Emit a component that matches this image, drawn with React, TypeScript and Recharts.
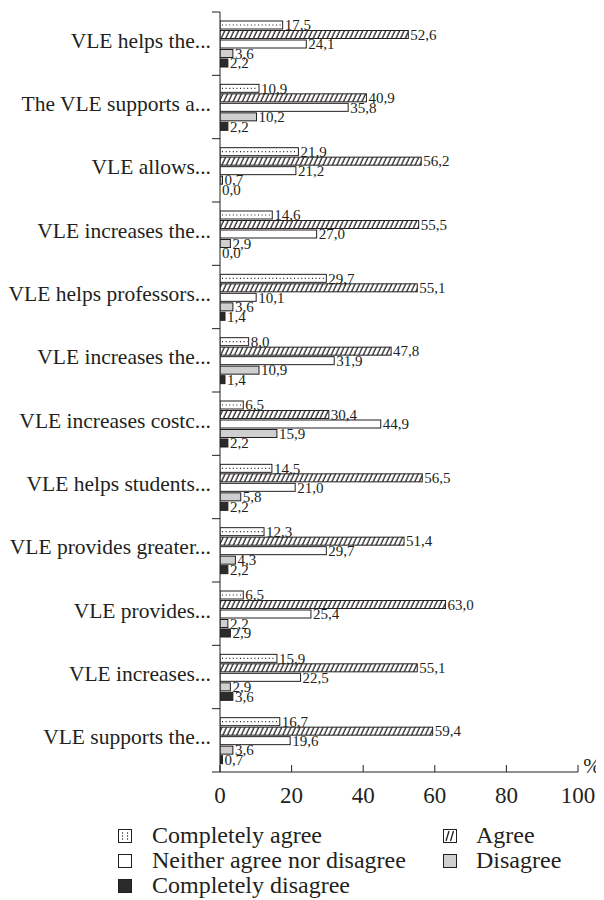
import React from 'react';
import { BarChart, Bar, XAxis, YAxis, LabelList } from 'recharts';

const categories = [
  'VLE helps the...',
  'The VLE supports a...',
  'VLE allows...',
  'VLE increases the...',
  'VLE helps professors...',
  'VLE increases the...',
  'VLE increases costc...',
  'VLE helps students...',
  'VLE provides greater...',
  'VLE provides...',
  'VLE increases...',
  'VLE supports the...',
];
const completelyAgree = [17.5, 10.9, 21.9, 14.6, 29.7, 8.0, 6.5, 14.5, 12.3, 6.5, 15.9, 16.7];
const agree = [52.6, 40.9, 56.2, 55.5, 55.1, 47.8, 30.4, 56.5, 51.4, 63.0, 55.1, 59.4];
const neither = [24.1, 35.8, 21.2, 27.0, 10.1, 31.9, 44.9, 21.0, 29.7, 25.4, 22.5, 19.6];
const disagree = [3.6, 10.2, 0.7, 2.9, 3.6, 10.9, 15.9, 5.8, 4.3, 2.2, 2.9, 3.6];
const completelyDisagree = [2.2, 2.2, 0.0, 0.0, 1.4, 1.4, 2.2, 2.2, 2.2, 2.9, 3.6, 0.7];
const xTicks = [0, 20, 40, 60, 80, 100];
const seriesNames = ['Completely agree', 'Agree', 'Neither agree nor disagree', 'Disagree', 'Completely disagree'];

const data = categories.map((name, i) => ({
  name,
  ca: completelyAgree[i],
  a: agree[i],
  n: neither[i],
  d: disagree[i],
  cd: completelyDisagree[i],
}));

const FONT = '"Liberation Serif", "Times New Roman", serif';
const INK = '#231f20';
const CHART_W = 596;
const CHART_H = 884;
const MARGIN = { top: 4, right: 26, left: 0, bottom: 80 };
const X_AXIS_H = 40;
const PLOT_H = CHART_H - MARGIN.top - MARGIN.bottom - X_AXIS_H;
const TINY = 1e-4;

const fmt = (v: any) => (Number(v) < 0.05 ? 0 : Number(v)).toFixed(1).replace('.', ',');
// keep zero-valued bars present (invisible) so their "0,0" labels are still drawn
const keepZero = (key: string) => (p: any) => (p[key] === 0 ? TINY : p[key]);

const DottedBar = (props: any) => {
  const { x, y, width, height } = props;
  if (!width || width < 0.1) return null;
  return (
    <g>
      <rect x={x} y={y} width={width} height={height} fill="#fff" stroke={INK} strokeWidth={1} />
      <line
        x1={x + 2}
        x2={x + width - 1}
        y1={y + height / 2}
        y2={y + height / 2}
        stroke={INK}
        strokeWidth={1.2}
        strokeDasharray="1 2.6"
      />
    </g>
  );
};

const makeSolidBar = (fill: string) => (props: any) => {
  const { x, y, width, height } = props;
  if (!width || width < 0.1) return null;
  return <rect x={x} y={y} width={width} height={height} fill={fill} stroke={INK} strokeWidth={1} />;
};

const HatchBar = makeSolidBar('url(#hatch)');
const WhiteBar = makeSolidBar('#fff');
const GrayBar = makeSolidBar('#cfcfcf');
const DarkBar = makeSolidBar('#2b2b2b');

const YTick = (props: any) => {
  const { x, y, payload, index } = props;
  const band = PLOT_H / categories.length;
  return (
    <g>
      <line x1={x - 8} x2={x} y1={y - band / 2} y2={y - band / 2} stroke={INK} strokeWidth={1} />
      {index === categories.length - 1 && (
        <line x1={x - 8} x2={x} y1={y + band / 2} y2={y + band / 2} stroke={INK} strokeWidth={1} />
      )}
      <text
        x={x - 9}
        y={y - 3}
        textAnchor="end"
        dominantBaseline="central"
        fontFamily={FONT}
        fontSize={21.5}
        fill={INK}
      >
        {payload.value}
      </text>
    </g>
  );
};

const XTick = (props: any) => {
  const { x, y, payload } = props;
  return (
    <g>
      <line x1={x} x2={x} y1={y - 7} y2={y} stroke={INK} strokeWidth={1} />
      <text x={x} y={y + 31} textAnchor="middle" fontFamily={FONT} fontSize={23} fill={INK}>
        {payload.value}
      </text>
    </g>
  );
};

const PercentLabel = (props: any) => {
  const vb = props.viewBox || {};
  return (
    <text
      x={vb.x + vb.width + 14}
      y={vb.y + 1}
      textAnchor="middle"
      fontFamily={FONT}
      fontSize={21}
      fill={INK}
    >
      %
    </text>
  );
};

const labelStyle = { fontFamily: FONT, fontSize: 15, fill: INK };

const LegendIcon = ({ idx }: { idx: number }) => {
  const s = 14;
  return (
    <svg width={s} height={s} style={{ display: 'block' }}>
      {idx === 0 && (
        <g>
          <rect x={0.5} y={0.5} width={13} height={13} fill="#fff" stroke={INK} />
          {[4, 7, 10].map((yy) => (
            <g key={yy}>
              <circle cx={4.5} cy={yy} r={0.7} fill={INK} />
              <circle cx={9.5} cy={yy} r={0.7} fill={INK} />
            </g>
          ))}
        </g>
      )}
      {idx === 1 && (
        <g>
          <rect x={0.5} y={0.5} width={13} height={13} fill="#fff" stroke={INK} />
          <line x1={3} y1={12} x2={6} y2={2} stroke={INK} strokeWidth={1.3} />
          <line x1={7.5} y1={12} x2={10.5} y2={2} stroke={INK} strokeWidth={1.3} />
        </g>
      )}
      {idx === 2 && <rect x={0.5} y={0.5} width={13} height={13} fill="#fff" stroke={INK} />}
      {idx === 3 && <rect x={0.5} y={0.5} width={13} height={13} fill="#cfcfcf" stroke={INK} />}
      {idx === 4 && <rect x={0.5} y={0.5} width={13} height={13} fill="#2b2b2b" stroke={INK} />}
    </svg>
  );
};

const legendLayout = [
  [0, 1],
  [2, 3],
  [4],
];

const LegendBlock = () => (
  <div style={{ position: 'absolute', top: 815, left: 0, width: CHART_W, fontFamily: FONT, fontSize: 24, color: INK }}>
    {legendLayout.map((row, r) => (
      <div key={r} style={{ position: 'relative', height: 25 }}>
        {row.map((idx, c) => (
          <div
            key={idx}
            style={{
              position: 'absolute',
              left: c === 0 ? 110 : 435,
              top: 0,
              height: 25,
              display: 'flex',
              alignItems: 'center',
              whiteSpace: 'nowrap',
            }}
          >
            <LegendIcon idx={idx} />
            <span style={{ marginLeft: c === 0 ? 20 : 19, lineHeight: '25px' }}>{seriesNames[idx]}</span>
          </div>
        ))}
      </div>
    ))}
  </div>
);

export default function App() {
  return (
    <div style={{ position: 'relative', width: CHART_W, height: 892 }}>
      <BarChart
        width={CHART_W}
        height={CHART_H}
        data={data}
        layout="vertical"
        margin={MARGIN}
        barSize={8}
        barGap={1.5}
      >
        <defs>
          <pattern
            id="hatch"
            patternUnits="userSpaceOnUse"
            width={4.6}
            height={10}
            patternTransform="skewX(-25)"
          >
            <rect x={0} y={0} width={4.6} height={10} fill="#fff" />
            <line x1={2} y1={0} x2={2} y2={10} stroke={INK} strokeWidth={1.4} />
          </pattern>
        </defs>
        <XAxis
          type="number"
          domain={[0, 100]}
          ticks={xTicks}
          height={X_AXIS_H}
          tickSize={0}
          tickMargin={0}
          tick={<XTick />}
          axisLine={{ stroke: INK, strokeWidth: 1 }}
          tickLine={false}
          interval={0}
          allowDataOverflow
          label={<PercentLabel />}
        />
        <YAxis
          type="category"
          dataKey="name"
          width={212}
          tickSize={0}
          tickMargin={0}
          tick={<YTick />}
          axisLine={{ stroke: INK, strokeWidth: 1 }}
          tickLine={false}
          interval={0}
        />
        <Bar dataKey={keepZero('ca')} name={seriesNames[0]} shape={<DottedBar />} isAnimationActive={false}>
          <LabelList position="right" offset={2} formatter={fmt} style={labelStyle} />
        </Bar>
        <Bar dataKey={keepZero('a')} name={seriesNames[1]} shape={<HatchBar />} isAnimationActive={false}>
          <LabelList position="right" offset={2} formatter={fmt} style={labelStyle} />
        </Bar>
        <Bar dataKey={keepZero('n')} name={seriesNames[2]} shape={<WhiteBar />} isAnimationActive={false}>
          <LabelList position="right" offset={2} formatter={fmt} style={labelStyle} />
        </Bar>
        <Bar dataKey={keepZero('d')} name={seriesNames[3]} shape={<GrayBar />} isAnimationActive={false}>
          <LabelList position="right" offset={2} formatter={fmt} style={labelStyle} />
        </Bar>
        <Bar dataKey={keepZero('cd')} name={seriesNames[4]} shape={<DarkBar />} isAnimationActive={false}>
          <LabelList position="right" offset={2} formatter={fmt} style={labelStyle} />
        </Bar>
      </BarChart>
      <LegendBlock />
    </div>
  );
}
